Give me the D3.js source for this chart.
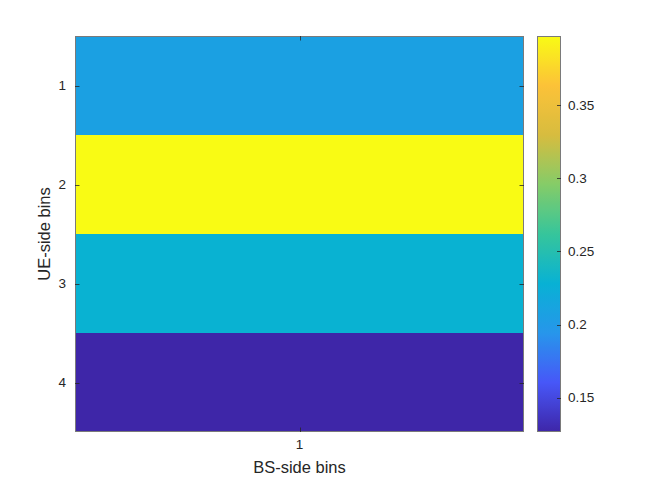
<!DOCTYPE html>
<html>
<head>
<meta charset="utf-8">
<script src="https://cdn.jsdelivr.net/npm/d3@7"></script>
<style>
  html, body { margin: 0; padding: 0; background: #fff; }
  svg text { font-family: "Liberation Sans", Arial, sans-serif; fill: #262626; }
</style>
</head>
<body>
<svg id="chart" width="648" height="486"></svg>
<script>
// heatmap data: one BS-side bin, four UE-side bins
const bsBins = [1];
const ueBins = [1, 2, 3, 4];
const values = [0.207, 0.397, 0.229, 0.1266];   // row by row (UE bin 1..4)
const cbTicks = [0.15, 0.2, 0.25, 0.3, 0.35];

// approx parula colormap stops
const parulaStops = [
    [0.000, [62, 38, 168]],
    [0.125, [71, 87, 248]],
    [0.250, [39, 150, 235]],
    [0.375, [8, 177, 212]],
    [0.500, [54, 197, 155]],
    [0.625, [133, 204, 104]],
    [0.750, [215, 188, 63]],
    [0.875, [252, 194, 56]],
    [1.000, [249, 251, 20]]
];
const parula = d3.scaleLinear()
    .domain(parulaStops.map(d => d[0]))
    .range(parulaStops.map(d => d3.rgb(...d[1]).toString()))
    .interpolate(d3.interpolateRgb)
    .clamp(true);

let svg = d3.select("#chart");

let plotL = 75, plotR = 524, plotT = 36, plotB = 432;
let cbLeft = 537, cbRight = 561;
let axisColor = "#262626";
let boxColor = "#7a7a7a";

let x = d3.scaleLinear().domain([0.5, bsBins.length + 0.5]).range([plotL, plotR]);
let y = d3.scaleLinear().domain([0.5, ueBins.length + 0.5]).range([plotT, plotB]);

let vmin = d3.min(values), vmax = d3.max(values);
let norm = d3.scaleLinear().domain([vmin, vmax]).range([0, 1]);

// cells
let cells = [];
ueBins.forEach(function (u, i) {
    bsBins.forEach(function (b) {
        cells.push({ u: u, b: b, v: values[i] });
    });
});

svg.append("g").selectAll("rect")
    .data(cells)
    .enter()
    .append("rect")
    .attr("x", d => x(d.b - 0.5))
    .attr("y", d => y(d.u - 0.5))
    .attr("width", d => x(d.b + 0.5) - x(d.b - 0.5))
    .attr("height", d => y(d.u + 0.5) - y(d.u - 0.5))
    .attr("fill", d => parula(norm(d.v)))
    .attr("shape-rendering", "crispEdges");

// box
svg.append("rect")
    .attr("x", plotL + 0.5).attr("y", plotT + 0.5)
    .attr("width", plotR - plotL - 1).attr("height", plotB - plotT - 1)
    .attr("fill", "none").attr("stroke", boxColor).attr("stroke-width", 1);

// y ticks (left and right, pointing inward)
let tickLen = 4.5;
ueBins.forEach(function (u) {
    let yy = Math.round(y(u)) + 0.5;
    svg.append("line").attr("x1", plotL).attr("x2", plotL + tickLen)
        .attr("y1", yy).attr("y2", yy).attr("stroke", axisColor).attr("stroke-width", 0.8);
    svg.append("line").attr("x1", plotR - tickLen).attr("x2", plotR)
        .attr("y1", yy).attr("y2", yy).attr("stroke", axisColor).attr("stroke-width", 0.8);
    svg.append("text")
        .attr("x", plotL - 9).attr("y", y(u))
        .attr("dy", "0.35em")
        .attr("text-anchor", "end")
        .attr("font-size", "13.5px")
        .text(u);
});

// x ticks
bsBins.forEach(function (b) {
    let xx = Math.round(x(b)) + 0.5;
    svg.append("line").attr("x1", xx).attr("x2", xx)
        .attr("y1", plotB - tickLen).attr("y2", plotB).attr("stroke", axisColor).attr("stroke-width", 0.8);
    svg.append("line").attr("x1", xx).attr("x2", xx)
        .attr("y1", plotT).attr("y2", plotT + tickLen).attr("stroke", axisColor).attr("stroke-width", 0.8);
    svg.append("text")
        .attr("x", x(b)).attr("y", plotB + 17)
        .attr("text-anchor", "middle")
        .attr("font-size", "13.5px")
        .text(b);
});

// axis labels
svg.append("text")
    .attr("x", (plotL + plotR) / 2).attr("y", 473)
    .attr("text-anchor", "middle")
    .attr("font-size", "16.5px")
    .text("BS-side bins");

svg.append("text")
    .attr("transform", "translate(50," + ((plotT + plotB) / 2) + ") rotate(-90)")
    .attr("text-anchor", "middle")
    .attr("font-size", "16.5px")
    .text("UE-side bins");

// colorbar
let cbScale = d3.scaleLinear().domain([vmin, vmax]).range([plotB, plotT]);
let defs = svg.append("defs");
let grad = defs.append("linearGradient")
    .attr("id", "cbgrad")
    .attr("x1", 0).attr("y1", 1).attr("x2", 0).attr("y2", 0);
d3.range(0, 65).forEach(function (i) {
    let t = i / 64;
    grad.append("stop").attr("offset", t).attr("stop-color", parula(t));
});
svg.append("rect")
    .attr("x", cbLeft).attr("y", plotT)
    .attr("width", cbRight - cbLeft).attr("height", plotB - plotT)
    .attr("fill", "url(#cbgrad)");
svg.append("rect")
    .attr("x", cbLeft + 0.5).attr("y", plotT + 0.5)
    .attr("width", cbRight - cbLeft - 1).attr("height", plotB - plotT - 1)
    .attr("fill", "none").attr("stroke", boxColor).attr("stroke-width", 1);

cbTicks.forEach(function (t) {
    let yy = Math.round(cbScale(t)) + 0.5;
    svg.append("line").attr("x1", cbRight - 4).attr("x2", cbRight)
        .attr("y1", yy).attr("y2", yy).attr("stroke", axisColor).attr("stroke-width", 0.8);
    svg.append("text")
        .attr("x", cbRight + 7).attr("y", cbScale(t))
        .attr("dy", "0.35em")
        .attr("font-size", "13.5px")
        .text(t);
});
</script>
</body>
</html>
